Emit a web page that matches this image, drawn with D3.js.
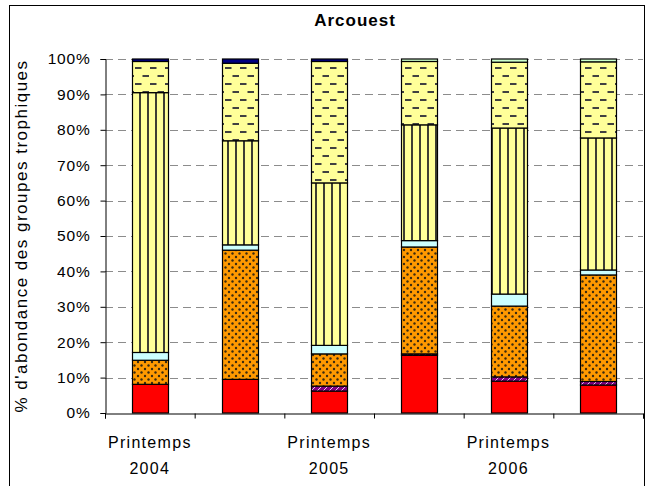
<!DOCTYPE html>
<html>
<head>
<meta charset="utf-8">
<script src="https://cdn.jsdelivr.net/npm/d3@7"></script>
<style>
    body { margin: 0; background: #fff; }
    text { font-family: "Liberation Sans", Arial, sans-serif; fill: #000; }
</style>
</head>
<body>
<div id="chart"></div>
<script>
// categories (two spring samples per year)
const categories = ["2004a", "2004b", "2005a", "2005b", "2006a", "2006b"]
const tickLabels = [["Printemps", "2004"], null, ["Printemps", "2005"], null, ["Printemps", "2006"], null]
const yTicks = [0, 10, 20, 30, 40, 50, 60, 70, 80, 90, 100]

// trophic groups, bottom to top (% abundance)
const seriesKeys = ["rouge", "violet", "orange", "cyan", "lignes", "tirets", "vert", "marine"]
const rouge  = [8.1, 9.5, 6.2, 16.3, 9.0, 7.9]
const violet = [0, 0, 1.4, 0.4, 1.2, 1.0]
const orange = [6.8, 36.5, 9.1, 30.2, 20.0, 30.1]
const cyan   = [2.2, 1.5, 2.4, 1.8, 3.4, 1.4]
const lignes = [73.4, 29.4, 45.9, 32.7, 46.9, 37.3]
const tirets = [8.8, 21.9, 34.3, 17.9, 18.6, 21.5]
const vert   = [0, 0, 0, 0.7, 0.9, 0.8]
const marine = [0.7, 1.2, 0.7, 0, 0, 0]

const seriesValues = {rouge, violet, orange, cyan, lignes, tirets, vert, marine}

const width = 652, height = 486
const plot = {left: 105, right: 643, top: 59, bottom: 413}

const svg = d3.select("#chart").append("svg")
    .attr("width", width)
    .attr("height", height)
    .attr("viewBox", [0, 0, width, height])

// fill patterns
const defs = svg.append("defs")

let p = defs.append("pattern").attr("id", "pDots")
    .attr("patternUnits", "userSpaceOnUse").attr("width", 7).attr("height", 7)
p.append("rect").attr("width", 7).attr("height", 7).attr("fill", "#ff9900")
p.append("circle").attr("cx", 1.5).attr("cy", 1.5).attr("r", 1.2).attr("fill", "#3a2a10")
p.append("circle").attr("cx", 5).attr("cy", 5).attr("r", 1.2).attr("fill", "#3a2a10")

p = defs.append("pattern").attr("id", "pLines")
    .attr("patternUnits", "userSpaceOnUse").attr("width", 8).attr("height", 8)
p.append("rect").attr("width", 8).attr("height", 8).attr("fill", "#ffff99")
p.append("rect").attr("x", 3).attr("width", 2).attr("height", 8).attr("fill", "#3d3d33")

p = defs.append("pattern").attr("id", "pDashes")
    .attr("patternUnits", "userSpaceOnUse").attr("width", 15).attr("height", 16)
p.append("rect").attr("width", 15).attr("height", 16).attr("fill", "#ffff99")
p.append("rect").attr("x", 0).attr("y", 3).attr("width", 6.5).attr("height", 2).attr("fill", "#404040")
p.append("rect").attr("x", 7.5).attr("y", 11).attr("width", 6.5).attr("height", 2).attr("fill", "#404040")

p = defs.append("pattern").attr("id", "pViolet")
    .attr("patternUnits", "userSpaceOnUse").attr("width", 6).attr("height", 6)
p.append("rect").attr("width", 6).attr("height", 6).attr("fill", "#800080")
p.append("path").attr("d", "M0,6L6,0").attr("stroke", "#e8c8f0").attr("stroke-width", 1)

const fills = {
    rouge: "#ff0000",
    violet: "url(#pViolet)",
    orange: "url(#pDots)",
    cyan: "#ccffff",
    lignes: "url(#pLines)",
    tirets: "url(#pDashes)",
    vert: "#ccffcc",
    marine: "#000080"
}

// outer chart frame
svg.append("rect")
    .attr("x", 9.5).attr("y", 5.5)
    .attr("width", 635).attr("height", 500)
    .attr("fill", "none").attr("stroke", "#000").attr("stroke-width", 1)

const x = d3.scaleBand()
    .domain(categories)
    .range([plot.left, plot.right])
    .paddingInner(0.6)
    .paddingOuter(0.3)

const xEdge = d3.scaleLinear()
    .domain([0, categories.length])
    .range([plot.left, plot.right])

const y = d3.scaleLinear()
    .domain([0, 100])
    .range([plot.bottom, plot.top])

// gridlines
svg.append("g")
    .selectAll("line")
    .data(yTicks.filter(d => d > 0))
    .join("line")
    .attr("x1", plot.left).attr("x2", plot.right)
    .attr("y1", d => Math.round(y(d)) + 0.5).attr("y2", d => Math.round(y(d)) + 0.5)
    .attr("stroke", "#8c8c8c")
    .attr("stroke-dasharray", "8,5")

// stacked bars
const table = categories.map((c, i) => {
    const row = {cat: c}
    seriesKeys.forEach(k => row[k] = seriesValues[k][i])
    return row
})
const stacked = d3.stack().keys(seriesKeys)(table)

svg.append("g")
    .selectAll("g")
    .data(stacked)
    .join("g")
    .attr("fill", d => fills[d.key])
    .selectAll("rect")
    .data(d => d.filter(s => s[1] - s[0] > 0))
    .join("rect")
    .attr("x", d => Math.round(x(d.data.cat)) + 0.5)
    .attr("y", d => y(d[1]))
    .attr("width", Math.round(x.bandwidth()))
    .attr("height", d => y(d[0]) - y(d[1]))
    .attr("stroke", "#000")
    .attr("stroke-width", 1.2)

// y axis
const yAxis = svg.append("g")
    .attr("transform", `translate(${plot.left + 0.5},0)`)
    .call(d3.axisLeft(y).tickValues(yTicks).tickFormat(d => d + "%").tickSize(5).tickPadding(10))
yAxis.select(".domain").attr("stroke", "#000")
yAxis.selectAll("text")
    .style("font-size", "15.5px")
    .style("letter-spacing", "0.8px")
    .attr("fill", "#000")

// x axis: ticks between categories
const xAxis = svg.append("g")
    .attr("transform", `translate(0,${plot.bottom + 0.5})`)
    .call(d3.axisBottom(xEdge).tickValues(d3.range(categories.length + 1)).tickSize(5).tickFormat(""))
xAxis.select(".domain").attr("stroke", "#000")

const xLabels = svg.append("g")
    .selectAll("text")
    .data(categories.filter((c, i) => tickLabels[i]))
    .join("text")
    .attr("text-anchor", "middle")
    .style("font-size", "16px")
    .style("letter-spacing", "1.3px")
xLabels.selectAll("tspan")
    .data(c => tickLabels[categories.indexOf(c)].map(t => ({c, t})))
    .join("tspan")
    .attr("x", d => x(d.c) + x.bandwidth() / 2)
    .attr("y", (d, i) => i === 0 ? 448 : 474)
    .text(d => d.t)

// title
svg.append("text")
    .attr("x", 355).attr("y", 26)
    .attr("text-anchor", "middle")
    .style("font-size", "17px")
    .style("font-weight", "bold")
    .style("letter-spacing", "1px")
    .text("Arcouest")

// y axis title
svg.append("text")
    .attr("transform", `translate(27,${(plot.top + plot.bottom) / 2}) rotate(-90)`)
    .attr("text-anchor", "middle")
    .style("font-size", "17px")
    .style("letter-spacing", "1.5px")
    .text("% d'abondance des groupes trophiques")
</script>
</body>
</html>
